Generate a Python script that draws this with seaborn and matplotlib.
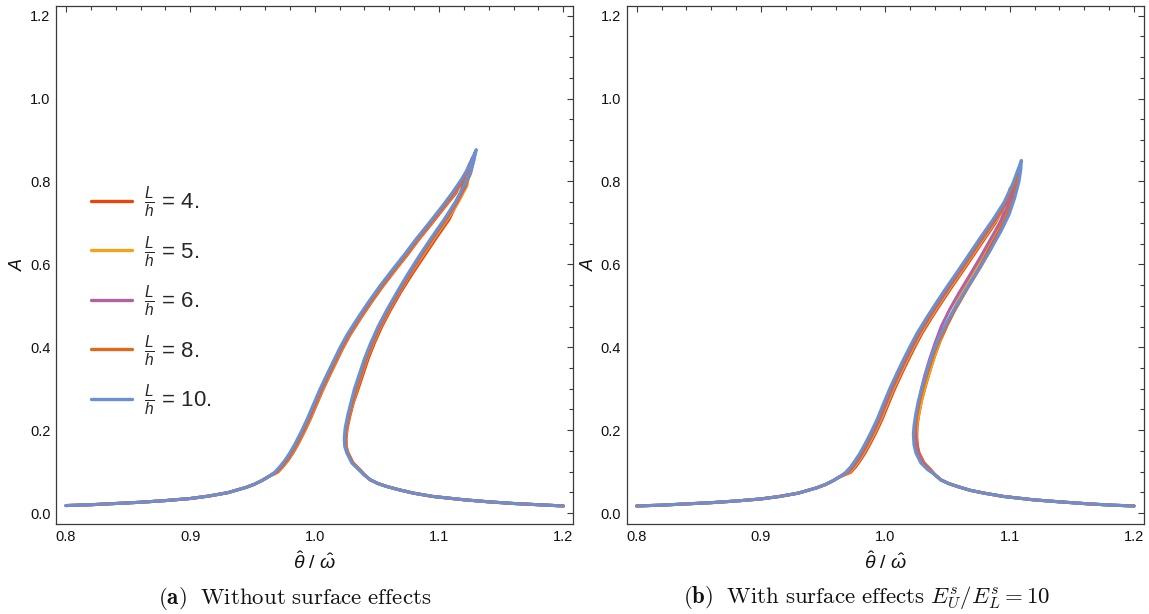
import numpy as np
import pandas as pd
import matplotlib
matplotlib.use("Agg")
import matplotlib.pyplot as plt
from matplotlib.ticker import MultipleLocator
from matplotlib.lines import Line2D
import seaborn as sns

# ---------------- data ----------------
SERIES = ["4.", "5.", "6.", "8.", "10."]
COLORS = ["#E5470D", "#F4A21F", "#B062A4", "#DD6A1E", "#6A8FD3"]

# ---- panel (a): shared low-amplitude tails ----
A_TAIL_L_X = [0.800, 0.820, 0.840, 0.860, 0.880, 0.900, 0.915, 0.930, 0.945, 0.952, 0.958, 0.963]
A_TAIL_L_A = [0.018, 0.020, 0.023, 0.026, 0.030, 0.035, 0.041, 0.049, 0.062, 0.070, 0.079, 0.088]
A_TAIL_R_X = [1.040, 1.0446, 1.051, 1.058, 1.068, 1.0794, 1.095, 1.120, 1.140, 1.160, 1.180, 1.200]
A_TAIL_R_A = [0.092, 0.0804, 0.071, 0.064, 0.056, 0.048, 0.040, 0.032, 0.027, 0.023, 0.020, 0.017]

# ---- panel (a): resonance loops (outer branch up, then inner branch down) ----
A_L4_X = [0.9705, 0.9745, 0.9785, 0.9825, 0.9865, 0.9915, 0.9965, 1.0015, 1.0065, 1.0125, 1.0175, 1.0225,
          1.0285, 1.037, 1.0455, 1.055, 1.065, 1.0745, 1.0835, 1.0945, 1.105, 1.1135, 1.1215,
          1.1195, 1.1165, 1.108, 1.098, 1.088, 1.078, 1.069, 1.061, 1.054, 1.048, 1.043, 1.039, 1.035,
          1.031, 1.0284, 1.0262, 1.0253, 1.0254, 1.0269, 1.0309, 1.0364]
A_L4_A = [0.099, 0.112, 0.127, 0.145, 0.166, 0.195, 0.227, 0.262, 0.297, 0.335, 0.366, 0.397,
          0.430, 0.470, 0.508, 0.548, 0.587, 0.623, 0.659, 0.700, 0.740, 0.772, 0.820,
          0.795, 0.760, 0.708, 0.665, 0.620, 0.575, 0.532, 0.490, 0.450, 0.410, 0.372, 0.336, 0.300,
          0.265, 0.235, 0.205, 0.180, 0.160, 0.145, 0.121, 0.1045]
A_L5_X = [0.970, 0.974, 0.978, 0.982, 0.986, 0.991, 0.996, 1.001, 1.006, 1.012, 1.017, 1.022,
          1.028, 1.0365, 1.045, 1.0545, 1.0645, 1.074, 1.083, 1.094, 1.1045, 1.1125, 1.1195, 1.1245,
          1.1225, 1.1155, 1.1065, 1.0965, 1.0865, 1.0765, 1.068, 1.060, 1.053, 1.047, 1.042, 1.038,
          1.034, 1.0306, 1.0278, 1.0257, 1.0249, 1.0251, 1.0267, 1.0307, 1.0362]
A_L5_A = [0.099, 0.112, 0.127, 0.145, 0.166, 0.195, 0.227, 0.262, 0.297, 0.335, 0.366, 0.397,
          0.430, 0.470, 0.508, 0.548, 0.587, 0.623, 0.659, 0.700, 0.740, 0.772, 0.805, 0.843,
          0.790, 0.750, 0.708, 0.665, 0.620, 0.575, 0.532, 0.490, 0.450, 0.410, 0.372, 0.336,
          0.300, 0.265, 0.235, 0.205, 0.180, 0.160, 0.145, 0.121, 0.1045]
A_L6_X = [0.9695, 0.9735, 0.9775, 0.9815, 0.9855, 0.9905, 0.9955, 1.0005, 1.0055, 1.0115, 1.0165, 1.0215,
          1.0275, 1.036, 1.0445, 1.054, 1.064, 1.0735, 1.0825, 1.0935, 1.104, 1.112, 1.1195, 1.127,
          1.1255, 1.1215, 1.1145, 1.1055, 1.0955, 1.0855, 1.076, 1.0675, 1.0595, 1.0525, 1.0465, 1.0415,
          1.0375, 1.0335, 1.0302, 1.0275, 1.0254, 1.0246, 1.0249, 1.0265, 1.0305, 1.036]
A_L6_A = [0.099, 0.112, 0.127, 0.145, 0.166, 0.195, 0.227, 0.262, 0.297, 0.335, 0.366, 0.397,
          0.430, 0.470, 0.508, 0.548, 0.587, 0.623, 0.659, 0.700, 0.740, 0.772, 0.805, 0.858,
          0.830, 0.790, 0.750, 0.708, 0.665, 0.620, 0.575, 0.532, 0.490, 0.450, 0.410, 0.372,
          0.336, 0.300, 0.265, 0.235, 0.205, 0.180, 0.160, 0.145, 0.121, 0.1045]
A_L8_X = [0.969, 0.973, 0.977, 0.981, 0.985, 0.990, 0.995, 1.000, 1.005, 1.011, 1.016, 1.021,
          1.027, 1.0355, 1.044, 1.0535, 1.0635, 1.073, 1.082, 1.093, 1.1035, 1.1115, 1.119, 1.1245, 1.129,
          1.1275, 1.1255, 1.121, 1.114, 1.105, 1.095, 1.085, 1.0755, 1.067, 1.059, 1.052, 1.046,
          1.041, 1.037, 1.033, 1.0298, 1.0272, 1.0251, 1.0243, 1.0247, 1.0263, 1.0303, 1.0358]
A_L8_A = [0.099, 0.112, 0.127, 0.145, 0.166, 0.195, 0.227, 0.262, 0.297, 0.335, 0.366, 0.397,
          0.430, 0.470, 0.508, 0.548, 0.587, 0.623, 0.659, 0.700, 0.740, 0.772, 0.805, 0.835, 0.870,
          0.845, 0.820, 0.790, 0.750, 0.708, 0.665, 0.620, 0.575, 0.532, 0.490, 0.450, 0.410,
          0.372, 0.336, 0.300, 0.265, 0.235, 0.205, 0.180, 0.160, 0.145, 0.121, 0.1045]
A_L10_X = [0.968, 0.972, 0.976, 0.980, 0.984, 0.989, 0.994, 0.999, 1.004, 1.010, 1.015, 1.020,
           1.026, 1.0345, 1.043, 1.0525, 1.0625, 1.072, 1.081, 1.092, 1.1025, 1.1105, 1.118, 1.124, 1.130,
           1.128, 1.125, 1.120, 1.113, 1.104, 1.094, 1.084, 1.0745, 1.066, 1.058, 1.051, 1.045,
           1.040, 1.036, 1.032, 1.029, 1.0265, 1.0245, 1.0238, 1.0242, 1.0258, 1.0298, 1.0354]
A_L10_A = [0.099, 0.112, 0.127, 0.145, 0.166, 0.195, 0.227, 0.262, 0.297, 0.335, 0.366, 0.397,
           0.430, 0.470, 0.508, 0.548, 0.587, 0.623, 0.659, 0.700, 0.740, 0.772, 0.805, 0.835, 0.877,
           0.850, 0.820, 0.790, 0.750, 0.708, 0.665, 0.620, 0.575, 0.532, 0.490, 0.450, 0.410,
           0.372, 0.336, 0.300, 0.265, 0.235, 0.205, 0.180, 0.160, 0.145, 0.121, 0.1045]

# ---- panel (b): shared low-amplitude tails ----
B_TAIL_L_X = [0.800, 0.820, 0.840, 0.860, 0.880, 0.900, 0.915, 0.930, 0.945, 0.952, 0.958, 0.963]
B_TAIL_L_A = [0.017, 0.019, 0.022, 0.025, 0.029, 0.034, 0.040, 0.048, 0.061, 0.069, 0.078, 0.087]
B_TAIL_R_X = [1.040, 1.0446, 1.051, 1.058, 1.068, 1.0794, 1.095, 1.1187, 1.140, 1.164, 1.182, 1.200]
B_TAIL_R_A = [0.092, 0.080, 0.071, 0.064, 0.055, 0.048, 0.040, 0.032, 0.027, 0.022, 0.019, 0.017]

# ---- panel (b): resonance loops ----
B_L4_X = [0.972, 0.976, 0.9795, 0.9835, 0.9875, 0.9925, 0.9975, 1.0025, 1.0075, 1.0135, 1.0185, 1.0235,
          1.0295, 1.0375, 1.0455, 1.0535, 1.0625, 1.0715, 1.0805, 1.0885, 1.0965,
          1.0955, 1.0915, 1.0855, 1.0785, 1.0705, 1.063, 1.0558, 1.0495, 1.044, 1.0395, 1.0355, 1.032,
          1.029, 1.027, 1.0256, 1.0252, 1.0258, 1.0271, 1.0311, 1.0365]
B_L4_A = [0.098, 0.111, 0.126, 0.144, 0.166, 0.195, 0.227, 0.264, 0.300, 0.339, 0.370, 0.400,
          0.434, 0.473, 0.510, 0.546, 0.585, 0.625, 0.665, 0.700, 0.746,
          0.725, 0.690, 0.650, 0.610, 0.568, 0.528, 0.490, 0.452, 0.415, 0.378, 0.340, 0.304,
          0.270, 0.240, 0.212, 0.185, 0.162, 0.145, 0.121, 0.1045]
B_L5_X = [0.971, 0.975, 0.9785, 0.9825, 0.9865, 0.9915, 0.9965, 1.0015, 1.0065, 1.0125, 1.0175, 1.0225,
          1.0285, 1.0365, 1.0445, 1.0525, 1.0615, 1.0705, 1.0795, 1.0895, 1.0965, 1.1005,
          1.0995, 1.0955, 1.089, 1.0815, 1.0735, 1.0655, 1.058, 1.0515, 1.0455, 1.041, 1.0365, 1.0325,
          1.0293, 1.0271, 1.0253, 1.0247, 1.0251, 1.0266, 1.0306, 1.036]
B_L5_A = [0.098, 0.111, 0.126, 0.144, 0.166, 0.195, 0.227, 0.264, 0.300, 0.339, 0.370, 0.400,
          0.434, 0.473, 0.510, 0.546, 0.585, 0.625, 0.665, 0.708, 0.745, 0.784,
          0.760, 0.720, 0.680, 0.640, 0.595, 0.552, 0.510, 0.470, 0.430, 0.392, 0.350, 0.312,
          0.275, 0.243, 0.212, 0.185, 0.162, 0.145, 0.121, 0.1045]
B_L6_X = [0.970, 0.974, 0.9775, 0.9815, 0.9855, 0.9905, 0.9955, 1.0005, 1.0055, 1.0115, 1.0165, 1.0215,
          1.0275, 1.0355, 1.0435, 1.0515, 1.0605, 1.0695, 1.0785, 1.0885, 1.0975, 1.1046,
          1.1035, 1.0985, 1.092, 1.0845, 1.076, 1.0675, 1.059, 1.0515, 1.045, 1.040, 1.0355, 1.0315,
          1.0285, 1.0264, 1.0248, 1.0243, 1.0248, 1.0263, 1.0303, 1.0357]
B_L6_A = [0.098, 0.111, 0.126, 0.144, 0.166, 0.195, 0.227, 0.264, 0.300, 0.339, 0.370, 0.400,
          0.434, 0.473, 0.510, 0.546, 0.585, 0.625, 0.665, 0.708, 0.750, 0.808,
          0.780, 0.740, 0.700, 0.660, 0.615, 0.572, 0.530, 0.490, 0.450, 0.410, 0.370, 0.330,
          0.292, 0.258, 0.228, 0.200, 0.170, 0.148, 0.122, 0.1045]
B_L8_X = [0.969, 0.973, 0.9765, 0.9805, 0.9845, 0.9895, 0.9945, 0.9995, 1.0045, 1.0105, 1.0155, 1.0205,
          1.0265, 1.0345, 1.0425, 1.0505, 1.0595, 1.0685, 1.0775, 1.0875, 1.0965, 1.1035, 1.1075,
          1.1065, 1.103, 1.098, 1.092, 1.0845, 1.0758, 1.067, 1.0588, 1.0512, 1.0445, 1.039, 1.0345,
          1.0305, 1.0275, 1.0255, 1.024, 1.0235, 1.024, 1.0255, 1.0295, 1.035]
B_L8_A = [0.098, 0.111, 0.126, 0.144, 0.166, 0.195, 0.227, 0.264, 0.300, 0.339, 0.370, 0.400,
          0.434, 0.473, 0.510, 0.546, 0.585, 0.625, 0.665, 0.708, 0.750, 0.795, 0.832,
          0.800, 0.760, 0.720, 0.680, 0.635, 0.590, 0.547, 0.505, 0.466, 0.426, 0.386, 0.345,
          0.305, 0.270, 0.240, 0.210, 0.190, 0.165, 0.145, 0.121, 0.1045]
B_L10_X = [0.968, 0.972, 0.9755, 0.9795, 0.9835, 0.9885, 0.9935, 0.9985, 1.0035, 1.0095, 1.0145, 1.0195,
           1.0255, 1.0335, 1.0415, 1.0495, 1.0585, 1.0675, 1.0765, 1.0865, 1.0955, 1.1025, 1.1094,
           1.109, 1.1075, 1.104, 1.0995, 1.093, 1.0845, 1.0755, 1.0665, 1.058, 1.0505, 1.0435, 1.038,
           1.0335, 1.0295, 1.0265, 1.0245, 1.023, 1.0225, 1.023, 1.0245, 1.0285, 1.034]
B_L10_A = [0.098, 0.111, 0.126, 0.144, 0.166, 0.195, 0.227, 0.264, 0.300, 0.339, 0.370, 0.400,
           0.434, 0.473, 0.510, 0.546, 0.585, 0.625, 0.665, 0.708, 0.750, 0.795, 0.851,
           0.830, 0.800, 0.760, 0.720, 0.680, 0.635, 0.590, 0.547, 0.505, 0.466, 0.426, 0.386,
           0.345, 0.305, 0.270, 0.240, 0.210, 0.190, 0.165, 0.145, 0.121, 0.1045]

X_TICKS = [0.8, 0.9, 1.0, 1.1, 1.2]
Y_TICKS = [0.0, 0.2, 0.4, 0.6, 0.8, 1.0, 1.2]
CAPTION_A = r"$\mathbf{(a)}\ \ \mathrm{Without\ surface\ effects}$"
CAPTION_B = r"$\mathbf{(b)}\ \ \mathrm{With\ surface\ effects}\ E_U^s/E_L^s=10$"


def build_frame(tail_lx, tail_la, loops, tail_rx, tail_ra):
    rows = []
    for name, (lx, la) in zip(SERIES, loops):
        xs = list(tail_lx) + list(lx) + list(tail_rx)
        ys = list(tail_la) + list(la) + list(tail_ra)
        for i, (xv, yv) in enumerate(zip(xs, ys)):
            rows.append({"series": name, "order": i, "x": xv, "A": yv})
    return pd.DataFrame(rows)


df_a = build_frame(A_TAIL_L_X, A_TAIL_L_A,
                   [(A_L4_X, A_L4_A), (A_L5_X, A_L5_A), (A_L6_X, A_L6_A),
                    (A_L8_X, A_L8_A), (A_L10_X, A_L10_A)],
                   A_TAIL_R_X, A_TAIL_R_A)
df_b = build_frame(B_TAIL_L_X, B_TAIL_L_A,
                   [(B_L4_X, B_L4_A), (B_L5_X, B_L5_A), (B_L6_X, B_L6_A),
                    (B_L8_X, B_L8_A), (B_L10_X, B_L10_A)],
                   B_TAIL_R_X, B_TAIL_R_A)

# ---------------- style ----------------
sns.set_theme(style="white")
plt.rcParams["font.family"] = ["Liberation Sans", "DejaVu Sans"]
plt.rcParams["mathtext.fontset"] = "custom"
plt.rcParams["mathtext.rm"] = "Liberation Sans"
plt.rcParams["mathtext.it"] = "Liberation Sans:italic"
plt.rcParams["mathtext.bf"] = "Liberation Sans:bold"

W, H = 1149, 614
fig = plt.figure(figsize=(W / 100, H / 100), dpi=100)
ax_a = fig.add_axes([56 / W, 90 / H, 517.3 / W, 518 / H])
ax_b = fig.add_axes([626.7 / W, 90 / H, 517.3 / W, 518 / H])

palette = dict(zip(SERIES, COLORS))
FRAME = "#3a3a3a"

for ax, df in ((ax_a, df_a), (ax_b, df_b)):
    sns.lineplot(data=df, x="x", y="A", hue="series", hue_order=SERIES,
                 palette=palette, sort=False, estimator=None, units="series",
                 linewidth=2.2, ax=ax, legend=False)
    for ln in ax.get_lines():
        ln.set_solid_joinstyle("round")
        ln.set_solid_capstyle("round")
    ax.set_xlim(0.792, 1.208)
    ax.set_ylim(-0.0265, 1.2234)
    ax.set_xticks(X_TICKS)
    ax.set_xticklabels([f"{v:.1f}" for v in X_TICKS])
    ax.set_yticks(Y_TICKS)
    ax.set_yticklabels([f"{v:.1f}" for v in Y_TICKS])
    ax.xaxis.set_minor_locator(MultipleLocator(0.02))
    ax.yaxis.set_minor_locator(MultipleLocator(0.05))
    ax.tick_params(which="both", direction="in", top=True, right=True,
                   color=FRAME, width=0.8, labelsize=10.5, labelcolor="#111111")
    ax.tick_params(which="major", length=4.5, pad=4)
    ax.tick_params(which="minor", length=3.2)
    for s in ax.spines.values():
        s.set_color(FRAME)
        s.set_linewidth(0.9)
    ax.set_ylabel("A", fontstyle="italic", fontsize=13, color="#111111")
    ax.yaxis.set_label_coords(-0.056, 0.5)
    ax.set_xlabel(r"$\hat{\theta}\ /\ \hat{\omega}$", fontsize=14, color="#111111")
    ax.xaxis.set_label_coords(0.5, -0.0734)
    ax.xaxis.label.set_va("center")
    ax.set_facecolor("white")

handles = [Line2D([], [], color=c, lw=2.4) for c in COLORS]
labels = [r"$\frac{L}{h}$ = " + s for s in SERIES]
ax_a.legend(handles, labels, loc="center left", bbox_to_anchor=(0.067, 0.43),
            frameon=False, fontsize=16, handlelength=1.85, handletextpad=0.55,
            labelspacing=0.62, borderpad=0, borderaxespad=0)

fig.text(295 / W, 1 - 598 / H, CAPTION_A, ha="center", va="center",
         fontsize=16.5, math_fontfamily="cm", color="#111111")
fig.text(867 / W, 1 - 598 / H, CAPTION_B, ha="center", va="center",
         fontsize=16.5, math_fontfamily="cm", color="#111111")

fig.savefig("out.png", dpi=100, facecolor="white")
